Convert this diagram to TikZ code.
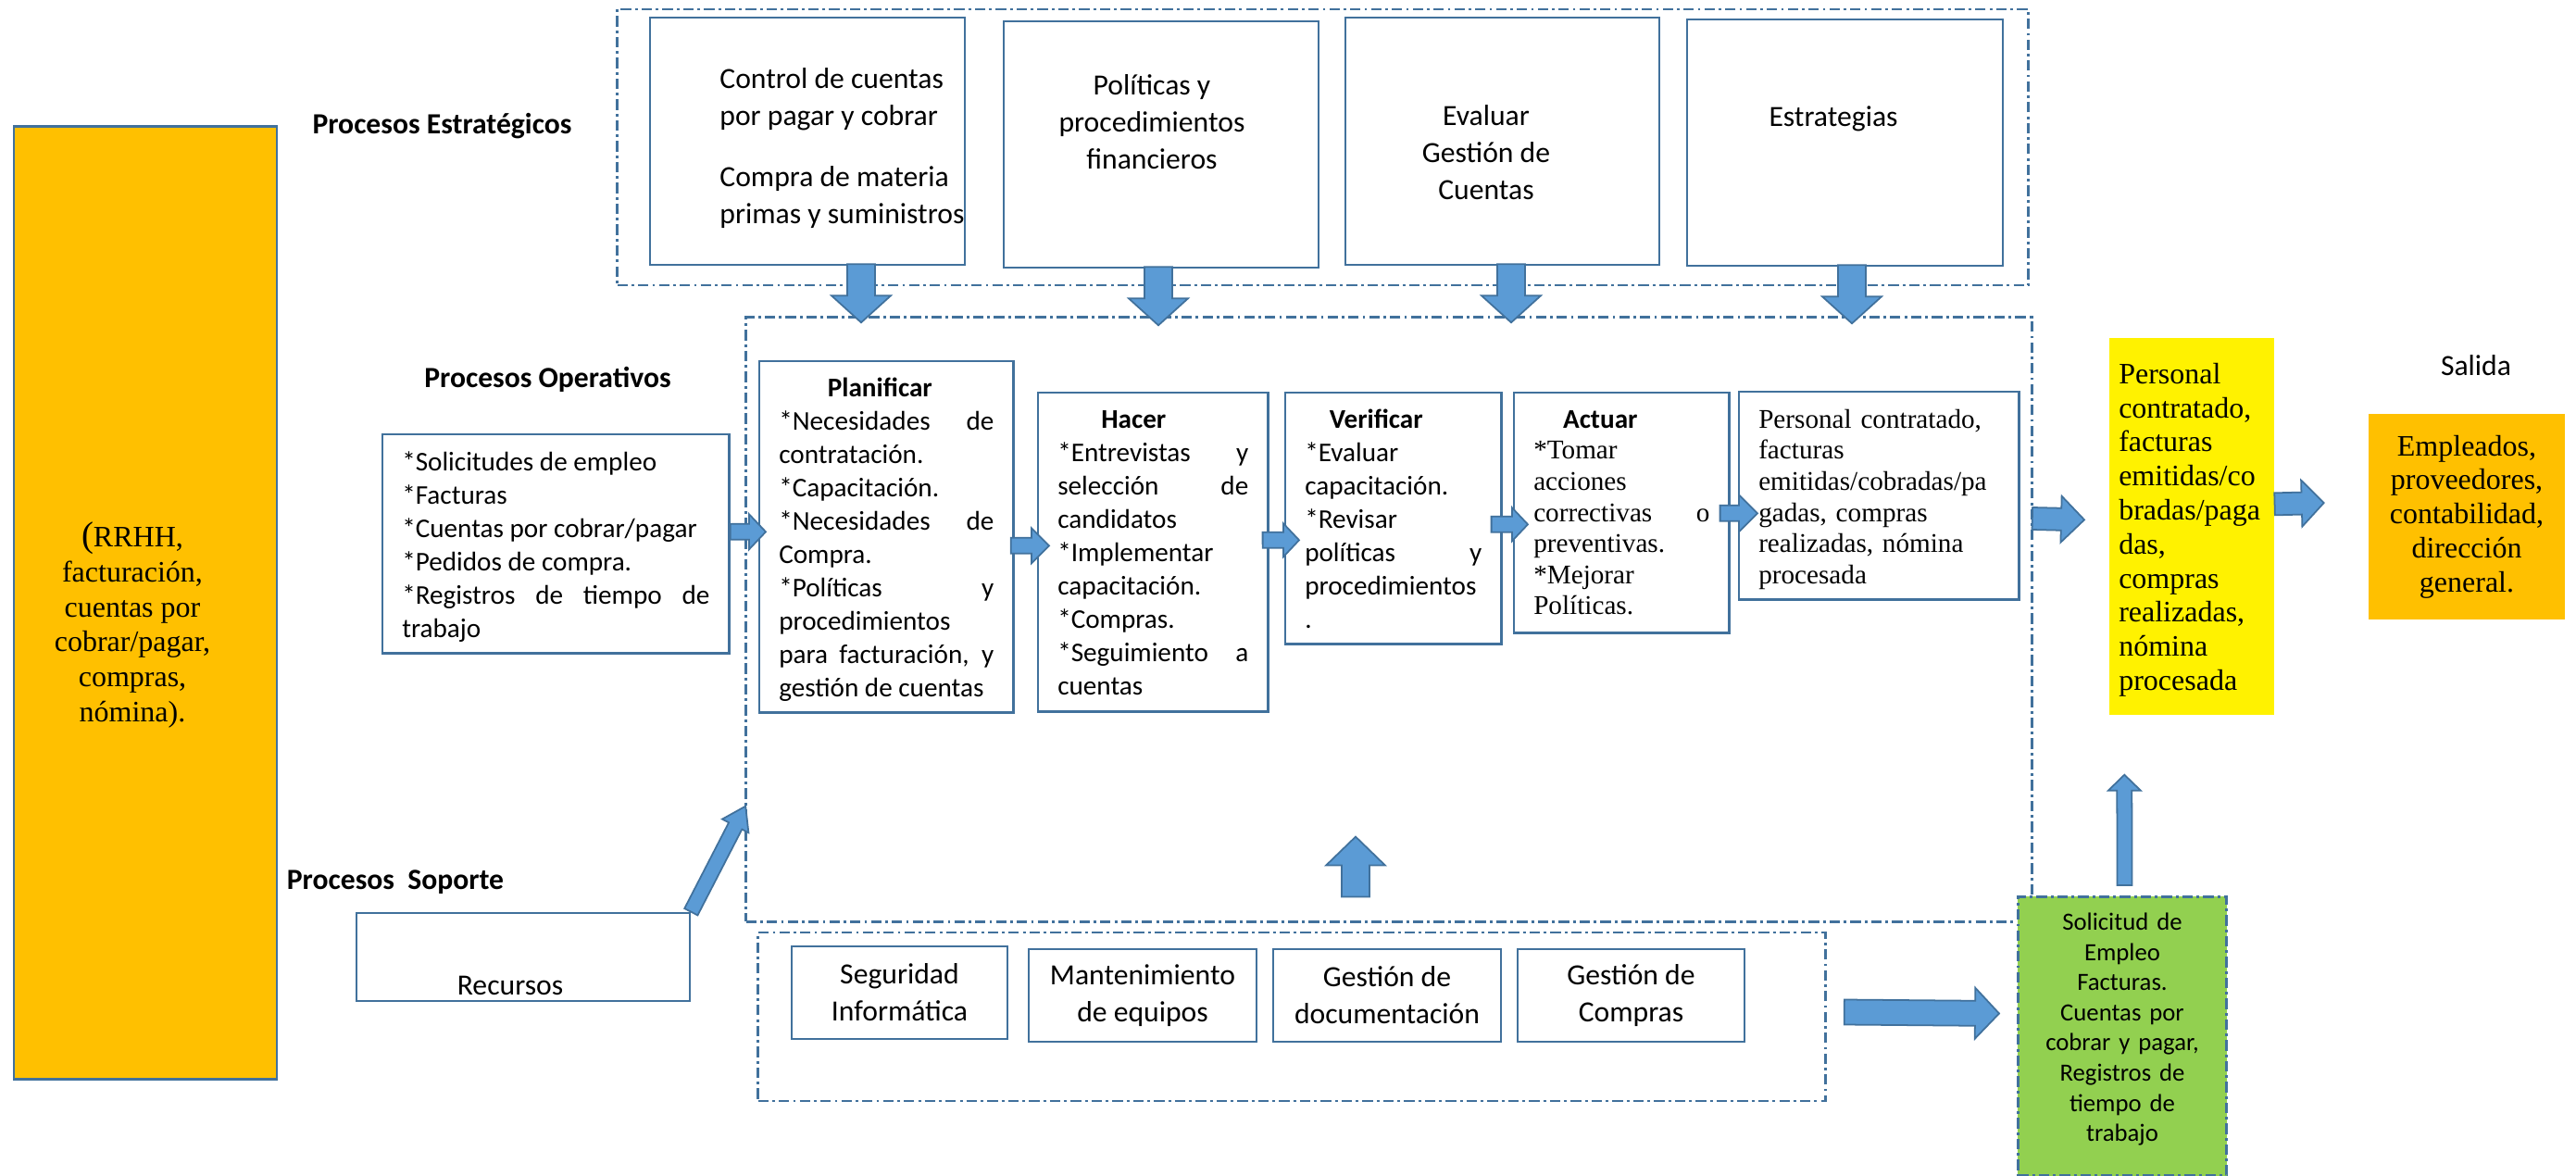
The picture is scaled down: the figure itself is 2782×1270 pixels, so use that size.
\documentclass[tikz,border=0pt]{standalone}
\usepackage{fontspec}
\setmainfont{Liberation Serif}
\newfontfamily\calibri{Carlito}
\usetikzlibrary{calc}

\definecolor{azulborde}{RGB}{65,113,156}
\definecolor{azulflecha}{RGB}{91,155,213}
\definecolor{naranja}{RGB}{255,192,0}
\definecolor{verdecaja}{RGB}{146,208,80}

\newcommand\calnueve{\calibri\fontsize{9}{11.4}\selectfont}
\newcommand\calocho{\calibri\fontsize{8.3}{10.24}\selectfont}
\newcommand\calsiete{\calibri\fontsize{7.6}{9.28}\selectfont}
\newcommand\timesocho{\fontsize{8.3}{9.56}\selectfont}
\newcommand\timesnueve{\fontsize{9.1}{10.47}\selectfont}
\hyphenpenalty=10000
\exhyphenpenalty=10000

% flecha gruesa: inicio, fin, media anchura del cuerpo, media anchura de la punta, largo de la punta
\newcommand\flecha[5]{%
  \coordinate (fl-a) at #1;
  \coordinate (fl-b) at #2;
  \coordinate (fl-c) at ($(fl-b)!#5!(fl-a)$);
  \filldraw[flechagruesa] ($(fl-a)!#3!90:(fl-b)$) -- ($(fl-c)!#3!90:(fl-b)$)
    -- ($(fl-c)!#4!90:(fl-b)$) -- (fl-b) -- ($(fl-c)!#4!-90:(fl-b)$)
    -- ($(fl-c)!#3!-90:(fl-b)$) -- ($(fl-a)!#3!-90:(fl-b)$) -- cycle;}

\tikzset{
  caja/.style={draw=azulborde, line width=0.7pt, fill=white, inner sep=0pt},
  grupo/.style={draw=azulborde, line width=0.8pt, dash pattern=on 3.2pt off 1.2pt on 0.8pt off 1.2pt, inner sep=0pt},
  paso/.style={caja, anchor=north west, inner xsep=0.21cm, inner ysep=0pt, align=justify},
  titulo/.style={font=\calnueve\bfseries},
  flechagruesa/.style={fill=azulflecha, draw=azulborde, line width=0.5pt, line join=miter},
}

\begin{document}
\begin{tikzpicture}[x=0.01cm, y=-0.01cm]
\useasboundingbox (0,0) rectangle (2782,1270);

% grupos de procesos
\node[grupo, minimum width=15.23cm, minimum height=2.98cm] (estr) at (1428.5,159) {};
\node[grupo, minimum width=13.88cm, minimum height=6.52cm] (oper) at (1500,669) {};
\node[grupo, minimum width=11.52cm, minimum height=1.82cm] (sop) at (1395,1098) {};

% entrada
\node[caja, fill=naranja, minimum width=2.84cm, minimum height=10.28cm] (fuente) at (157,651) {};
\node[align=center, font=\fontsize{9.1}{10.75}\selectfont] (fuentetxt) at (143,675)
  {{\fontsize{11}{11}\selectfont(}RRHH,\\ facturación,\\ cuentas por\\ cobrar/pagar,\\ compras,\\ nómina).};

% procesos estrategicos
\node[caja, minimum width=3.40cm, minimum height=2.67cm] (s1) at (872,152.5) {};
\node[font=\calnueve, align=left, anchor=west] (s1txt) at (765,160)
  {Control de cuentas\\ por pagar y cobrar\\[7.4pt] Compra de materia\\ primas y suministros};
\node[caja, minimum width=3.40cm, minimum height=2.66cm] (s2) at (1254,156) {};
\node[font=\calnueve, align=center] (s2txt) at (1244,131.5) {Políticas y\\ procedimientos\\ financieros};
\node[caja, minimum width=3.39cm, minimum height=2.67cm] (s3) at (1622.5,152.5) {};
\node[font=\calnueve, align=center] (s3txt) at (1605,164.5) {Evaluar\\ Gestión de\\ Cuentas};
\node[caja, minimum width=3.41cm, minimum height=2.66cm] (s4) at (1992.5,154) {};
\node[font=\calnueve] (s4txt) at (1980,128) {Estrategias};

\node[titulo] (lest) at (477.5,136) {Procesos Estratégicos};
\node[titulo] (lope) at (591.5,410) {Procesos Operativos};
\node[titulo] (lsop) at (427,953) {Procesos\ \ Soporte};

% procesos operativos
\node[paso, text width=3.32cm, text height=0.39cm, text depth=1.97cm, font=\calocho] (ent) at (412,468)
  {*Solicitudes de empleo\\{}*Facturas\\{}*Cuentas por cobrar/pagar\\{}*Pedidos de compra.\\{}%
   *Registros de tiempo de\linebreak trabajo};
\node[paso, text width=2.32cm, text height=0.38cm, text depth=3.41cm, font=\calocho] (plan) at (819,389)
  {\makebox[\linewidth]{\bfseries Planificar\hspace{0.14cm}}\\{}*Necesidades de\linebreak contratación.\\{}%
   *Capacitación.\\{}*Necesidades de\linebreak Compra.\\{}*Políticas y\linebreak procedimientos\\
   para facturación, y\linebreak gestión de cuentas};
\node[paso, text width=2.06cm, text height=0.38cm, text depth=3.06cm, font=\calocho] (hac) at (1120,423)
  {\makebox[\linewidth]{\bfseries Hacer\hspace{0.42cm}}\\{}*Entrevistas y\linebreak selección de\linebreak
   candidatos\\{}*Implementar\\ capacitación.\\{}*Compras.\\{}*Seguimiento a\linebreak cuentas};
\node[paso, text width=1.91cm, text height=0.38cm, text depth=2.33cm, font=\calocho] (ver) at (1387,423)
  {\makebox[\linewidth]{\bfseries Verificar\hspace{0.37cm}}\\{}*Evaluar\\ capacitación.\\{}*Revisar\\
   políticas y\linebreak procedimientos\\ .};
\node[paso, text width=1.90cm, text height=0.38cm, text depth=2.21cm, font=\timesocho] (act) at (1634,423)
  {\makebox[\linewidth]{\calibri\bfseries Actuar\hspace{0.46cm}}\\{}*Tomar\\ acciones\\
   correctivas o\linebreak preventivas.\\{}*Mejorar\\ Políticas.};
\node[paso, align=left, text width=2.60cm, text height=0.39cm, text depth=1.85cm, font=\timesocho] (per) at (1877,422)
  {Personal contratado,\\ facturas\\ emitidas/cobradas/pa\\ gadas, compras\\ realizadas, nómina\\ procesada};

% salida
\node[paso, draw=none, fill=yellow, align=left, inner xsep=0.10cm, text width=1.58cm, text height=0.49cm,
  text depth=3.58cm, font=\timesnueve] (res) at (2277,364)
  {Personal\\ contratado,\\ facturas\\ emitidas/co\\ bradas/paga\\ das,\\ compras\\ realizadas,\\ nómina\\ procesada};
\node[font=\calnueve] (lsal) at (2674,395) {Salida};
\node[caja, draw=none, fill=naranja, minimum width=2.12cm, minimum height=2.22cm, align=center,
  font=\timesnueve] (sal) at (2664,558) {Empleados,\\ proveedores,\\ contabilidad,\\ dirección\\ general.};

% procesos soporte
\node[caja, minimum width=3.60cm, minimum height=0.95cm] (rec) at (565,1033.5) {};
\node[font=\calnueve] (rectxt) at (551,1064) {Recursos};
\node[caja, minimum width=2.33cm, minimum height=1.00cm, align=center, font=\calnueve] (seg) at (971.5,1072) {Seguridad\\ Informática};
\node[caja, minimum width=2.46cm, minimum height=1.00cm, align=center, font=\calnueve] (man) at (1234,1075) {Mantenimiento\\ de equipos};
\node[caja, minimum width=2.46cm, minimum height=1.00cm, align=center, font=\calnueve] (gdoc) at (1498,1075) {Gestión de\\ documentación};
\node[caja, minimum width=2.45cm, minimum height=1.00cm, align=center, font=\calnueve] (gcom) at (1761.5,1075) {Gestión de\\ Compras};
\node[paso, grupo, fill=verdecaja, align=center, inner xsep=0.10cm, text width=2.05cm, text height=0.36cm,
  text depth=2.65cm, font=\calsiete] (reg) at (2178,967)
  {Solicitud de\\ Empleo\\ Facturas.\\ Cuentas por\\ cobrar y pagar,\\ Registros de\\ tiempo de\\ trabajo};

% flechas
\foreach \nodo/\dx in {s1/58, s2/-3, s3/9.5, s4/7.5}
  {\flecha{($(\nodo.south)+(\dx,-2)$)}{($(\nodo.south)+(\dx,61)$)}{0.15cm}{0.32cm}{0.29cm}}
\flecha{($(ent.east)+(0,-13)$)}{($(plan.west)+(8,-5.5)$)}{0.085cm}{0.19cm}{0.18cm}
\flecha{($(plan.east)+(-4,9.5)$)}{($(hac.west)+(13,-7)$)}{0.085cm}{0.19cm}{0.19cm}
\flecha{($(hac.east)+(-7,-13)$)}{($(ver.west)+(16,23.5)$)}{0.085cm}{0.18cm}{0.17cm}
\flecha{($(ver.east)+(-12,6.5)$)}{($(act.west)+(16,12.5)$)}{0.085cm}{0.18cm}{0.17cm}
\flecha{($(act.east)+(-11,0.5)$)}{($(per.west)+(21,19)$)}{0.085cm}{0.20cm}{0.20cm}
\flecha{($(oper.east)+(-1,-109)$)}{($(res.west)+(-26,-7.5)$)}{0.12cm}{0.25cm}{0.25cm}
\flecha{($(res.east)+(-1,-24.5)$)}{($(sal.west)+(-47,-15)$)}{0.12cm}{0.25cm}{0.24cm}
\flecha{($(oper.south)+(-36,-28)$)}{($(oper.south)+(-36,-93)$)}{0.15cm}{0.32cm}{0.31cm}
\flecha{(rec.north east)}{($(oper.south west)+(1,-126)$)}{0.08cm}{0.16cm}{0.24cm}
\flecha{($(sop.east)+(19,-5)$)}{($(reg.west)+(-19,-24.5)$)}{0.135cm}{0.275cm}{0.26cm}
\flecha{($(reg.north)+(2.5,-11)$)}{($(res.south)+(-73,63)$)}{0.08cm}{0.175cm}{0.17cm}
\end{tikzpicture}
\end{document}
